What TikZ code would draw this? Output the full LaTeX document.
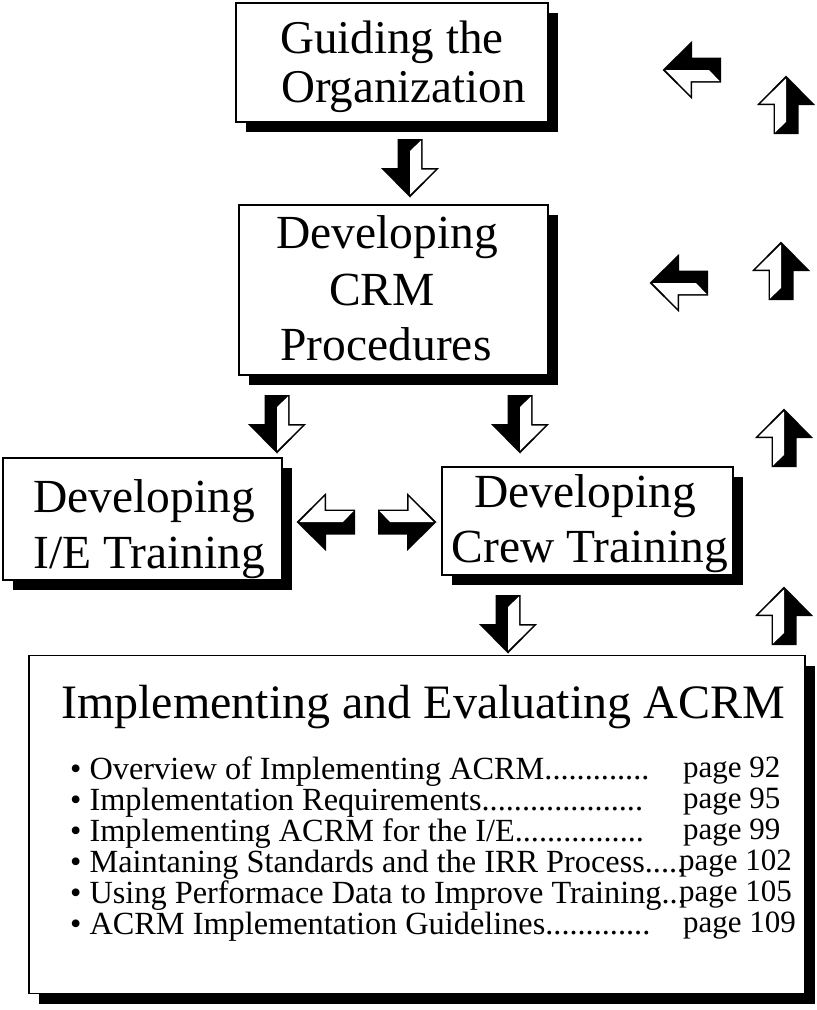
\documentclass[tikz,border=0pt]{standalone}
\usepackage{fontspec}
\setmainfont{Liberation Serif}
\usetikzlibrary{shadows}
\tikzset{
  box/.style={draw=black, line width=1.5pt, fill=white, inner sep=0pt,
    general shadow={fill=black, shadow xshift=10pt, shadow yshift=-10pt}},
  boxtext/.style={font=\fontsize{47.5}{56}\selectfont, inner sep=0pt},
  titletext/.style={font=\fontsize{48}{56}\selectfont, inner sep=0pt},
  listtext/.style={font=\fontsize{32.3}{32}\selectfont, inner sep=0pt, anchor=base west},
  pagetext/.style={font=\fontsize{31}{32}\selectfont, inner sep=0pt, anchor=base west},
  pics/blockarrow/.style={code={
    \fill[black] (-29,-12.5) -- (0,-12.5) -- (0,-29) -- (29.5,0) -- (0,29) -- (0,12.5) -- (-29,12.5) -- cycle;
    \fill[white] (-17,0) -- (-27.5,-11) -- (1.5,-11) -- (1.5,-25.5) -- (26.5,0) -- cycle;
  }}
}
\begin{document}
\begin{tikzpicture}[x=1pt, y=-1pt]
\useasboundingbox (0,0) rectangle (817,1010);
\fill[white] (0,0) rectangle (817,1010);

% boxes
\node[box, minimum width=312, minimum height=119] (guide) at (392,62.5) {};
\node[box, minimum width=309, minimum height=170] (crm) at (393.5,290) {};
\node[box, minimum width=279, minimum height=122] (ie) at (142.5,519) {};
\node[box, minimum width=291, minimum height=108] (crew) at (587.5,521) {};
\node[box, minimum width=776, minimum height=338] (impl) at (417,824.5) {};

% box texts
\node[boxtext, font=\fontsize{47}{49}\selectfont, anchor=base west] (g1) at (280,53) {Guiding the};
\node[boxtext, font=\fontsize{47}{49}\selectfont, anchor=base west] (g2) at (281,102) {Organization};

\node[boxtext, anchor=base] (c1) at (387,248) {Developing};
\node[boxtext, anchor=base] (c2) at (382,305) {CRM};
\node[boxtext, anchor=base] (c3) at (386,360) {Procedures};

\node[boxtext, anchor=base west] (i1) at (33,512) {Developing};
\node[boxtext, anchor=base west] (i2) at (33,568) {I/E Training};

\node[boxtext, anchor=base] (w1) at (585,507) {Developing};
\node[boxtext, anchor=base] (w2) at (590,562) {Crew Training};

\node[titletext, anchor=base] (title) at (423,718) {Implementing and Evaluating ACRM};

\node[listtext] (l1) at (70,779) {• Overview of Implementing ACRM.............};
\node[listtext] (l2) at (70,810) {• Implementation Requirements....................};
\node[listtext] (l3) at (70,841) {• Implementing ACRM for the I/E................};
\node[listtext] (l4) at (70,872) {• Maintaning Standards and the IRR Process.....};
\node[listtext] (l5) at (70,903) {• Using Performace Data to Improve Training...};
\node[listtext] (l6) at (70,934) {• ACRM Implementation Guidelines.............};

\node[pagetext] (p1) at (683,777) {page 92};
\node[pagetext] (p2) at (683,808) {page 95};
\node[pagetext] (p3) at (683,839) {page 99};
\node[pagetext] (p4) at (679,870) {page 102};
\node[pagetext] (p5) at (679,901) {page 105};
\node[pagetext] (p6) at (683,932) {page 109};

% block arrows (flow)
\pic[rotate=-90] at (410,168) {blockarrow};
\pic[rotate=-90] at (277,424) {blockarrow};
\pic[rotate=-90] at (520,424) {blockarrow};
\pic[rotate=-90] at (508,624) {blockarrow};
\pic[xscale=-1] at (326,522) {blockarrow};
\pic at (407,522) {blockarrow};

% block arrows (right side)
\pic[rotate=180] at (692,70) {blockarrow};
\pic[rotate=180] at (679,283) {blockarrow};
\pic[rotate=90] at (786,105) {blockarrow};
\pic[rotate=90] at (781,271) {blockarrow};
\pic[rotate=90] at (784,438) {blockarrow};
\pic[rotate=90] at (784,616) {blockarrow};
\end{tikzpicture}
\end{document}
